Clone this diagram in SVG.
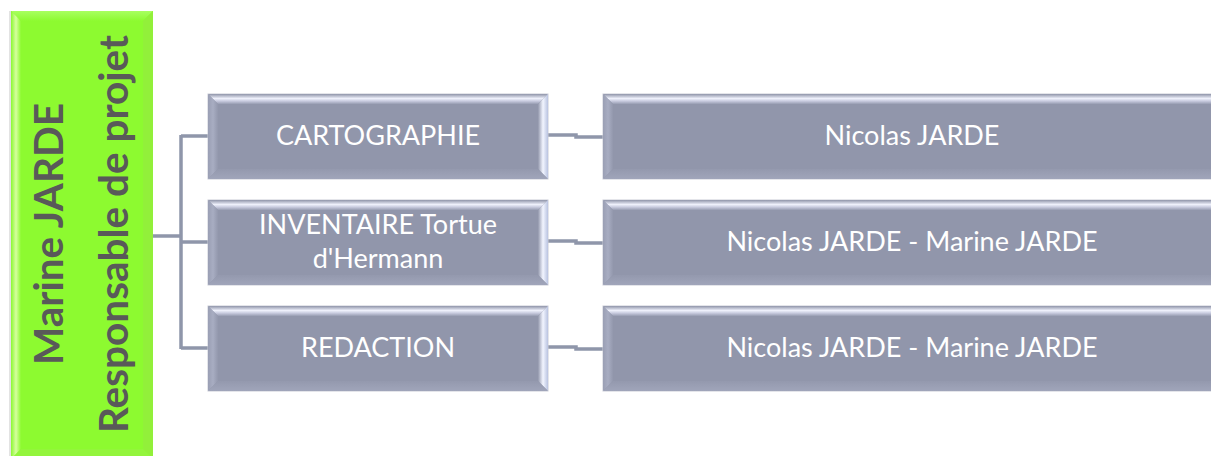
<svg xmlns="http://www.w3.org/2000/svg" width="1211" height="456" viewBox="0 0 1211 456">
  <defs>
    <linearGradient id="gTop" x1="0" y1="0" x2="0" y2="1">
      <stop offset="0" stop-color="#8f94a9"/>
      <stop offset="0.45" stop-color="#eef0fb"/>
      <stop offset="0.7" stop-color="#c9cce0"/>
      <stop offset="1" stop-color="#989db2"/>
    </linearGradient>
    <linearGradient id="gLeft" x1="0" y1="0" x2="1" y2="0">
      <stop offset="0" stop-color="#9a9fb4"/>
      <stop offset="0.5" stop-color="#a8adc2"/>
      <stop offset="1" stop-color="#9398ad"/>
    </linearGradient>
    <linearGradient id="gRight" x1="0" y1="0" x2="1" y2="0">
      <stop offset="0" stop-color="#9398ad"/>
      <stop offset="0.5" stop-color="#f2f5ff"/>
      <stop offset="1" stop-color="#b9c3e0"/>
    </linearGradient>
    <linearGradient id="gBottom" x1="0" y1="0" x2="0" y2="1">
      <stop offset="0" stop-color="#9499ae"/>
      <stop offset="1" stop-color="#a0a5ba"/>
    </linearGradient>
    <linearGradient id="gGreenLeft" x1="0" y1="0" x2="1" y2="0">
      <stop offset="0" stop-color="#8cf734"/>
      <stop offset="0.5" stop-color="#d6ff9e"/>
      <stop offset="1" stop-color="#8dfa30"/>
    </linearGradient>
    <linearGradient id="gGreenTop" x1="0" y1="0" x2="0" y2="1">
      <stop offset="0" stop-color="#a8ff60"/>
      <stop offset="1" stop-color="#8dfa30"/>
    </linearGradient>
    <style>
      .box { fill: #9196ab; stroke: #c9cbd6; stroke-width: 1; }
      .lbl { font-family: Lato, "Liberation Sans", sans-serif; font-size: 27px; fill: #ffffff; text-anchor: middle; }
      .head { font-family: Lato, "Liberation Sans", sans-serif; font-weight: 700; font-size: 40.5px; fill: #595959; text-anchor: middle; }
      .conn { fill: none; stroke: #8f96aa; stroke-width: 3.5; }
    </style>
  </defs>
  <rect width="1211" height="456" fill="#ffffff"/>

  <g id="connectors">
    <path class="conn" d="M153,236 H181 M181,135 V349 M181,136 H208 M181,242 H208 M181,348 H208"/>
    <path class="conn" d="M548,135 H576 V137 H603 M548,241 H576 V243 H603 M548,347 H576 V349 H603"/>
  </g>

  <g id="root">
    <rect x="9" y="11" width="144" height="448" fill="#c8c8c8" opacity="0.5"/>
    <rect x="11" y="11" width="142" height="448" fill="#8dfa30"/>
    <polygon points="11,11 153,11 143,21 21,21" fill="url(#gGreenTop)"/>
    <polygon points="11,11 21,21 21,449 11,459" fill="url(#gGreenLeft)"/>
    <polygon points="153,11 153,459 143,449 143,21" fill="#92f03a"/>
    <polygon points="11,459 153,459 143,449 21,449" fill="#93f53c"/>
    <text class="head" transform="translate(63,234) rotate(-90)">Marine JARDE</text>
    <text class="head" transform="translate(128,234) rotate(-90)">Responsable de projet</text>
  </g>

  <g id="n-cartographie">
    <rect class="box" x="208" y="94" width="340" height="85"/>
    <polygon points="208,94 548,94 538,104 218,104" fill="url(#gTop)"/>
    <polygon points="208,94 218,104 218,169 208,179" fill="url(#gLeft)"/>
    <polygon points="548,94 548,179 538,169 538,104" fill="url(#gRight)"/>
    <polygon points="208,179 548,179 538,169 218,169" fill="url(#gBottom)"/>
    <text class="lbl" x="378" y="145">CARTOGRAPHIE</text>
  </g>

  <g id="n-inventaire">
    <rect class="box" x="208" y="200" width="340" height="85"/>
    <polygon points="208,200 548,200 538,210 218,210" fill="url(#gTop)"/>
    <polygon points="208,200 218,210 218,275 208,285" fill="url(#gLeft)"/>
    <polygon points="548,200 548,285 538,275 538,210" fill="url(#gRight)"/>
    <polygon points="208,285 548,285 538,275 218,275" fill="url(#gBottom)"/>
    <text class="lbl" x="378" y="234">INVENTAIRE Tortue</text>
    <text class="lbl" x="378" y="268">d'Hermann</text>
  </g>

  <g id="n-redaction">
    <rect class="box" x="208" y="306" width="340" height="85"/>
    <polygon points="208,306 548,306 538,316 218,316" fill="url(#gTop)"/>
    <polygon points="208,306 218,316 218,381 208,391" fill="url(#gLeft)"/>
    <polygon points="548,306 548,391 538,381 538,316" fill="url(#gRight)"/>
    <polygon points="208,391 548,391 538,381 218,381" fill="url(#gBottom)"/>
    <text class="lbl" x="378" y="357">REDACTION</text>
  </g>

  <g id="n-nicolas">
    <rect class="box" x="603" y="94" width="620" height="85"/>
    <polygon points="603,94 1223,94 1213,104 613,104" fill="url(#gTop)"/>
    <polygon points="603,94 613,104 613,169 603,179" fill="url(#gLeft)"/>
    <polygon points="603,179 1223,179 1213,169 613,169" fill="url(#gBottom)"/>
    <text class="lbl" x="912" y="145">Nicolas JARDE</text>
  </g>

  <g id="n-nicolas-marine-1">
    <rect class="box" x="603" y="200" width="620" height="85"/>
    <polygon points="603,200 1223,200 1213,210 613,210" fill="url(#gTop)"/>
    <polygon points="603,200 613,210 613,275 603,285" fill="url(#gLeft)"/>
    <polygon points="603,285 1223,285 1213,275 613,275" fill="url(#gBottom)"/>
    <text class="lbl" x="912" y="251">Nicolas JARDE - Marine JARDE</text>
  </g>

  <g id="n-nicolas-marine-2">
    <rect class="box" x="603" y="306" width="620" height="85"/>
    <polygon points="603,306 1223,306 1213,316 613,316" fill="url(#gTop)"/>
    <polygon points="603,306 613,316 613,381 603,391" fill="url(#gLeft)"/>
    <polygon points="603,391 1223,391 1213,381 613,381" fill="url(#gBottom)"/>
    <text class="lbl" x="912" y="357">Nicolas JARDE - Marine JARDE</text>
  </g>
</svg>
